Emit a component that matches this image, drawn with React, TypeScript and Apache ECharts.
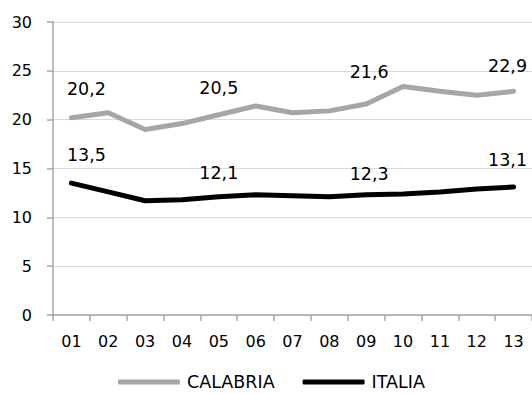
import React, { useEffect, useRef } from "react";
import * as echarts from "echarts";

const categories = ["01", "02", "03", "04", "05", "06", "07", "08", "09", "10", "11", "12", "13"];
const calabria = [20.2, 20.7, 19.0, 19.6, 20.5, 21.4, 20.7, 20.9, 21.6, 23.4, 22.9, 22.5, 22.9];
const italia = [13.5, 12.6, 11.7, 11.8, 12.1, 12.3, 12.2, 12.1, 12.3, 12.4, 12.6, 12.9, 13.1];
const labelledIdx = [0, 4, 8, 12];
const calabriaLabelOffsets = [[15, -28], [0, -26], [3, -32], [-6, -25]];
const italiaLabelOffsets = [[15, -28], [0, -23], [3, -20], [-6, -27]];

const FONT = "DejaVu Sans";

function buildData(values: number[], offsets: number[][]) {
  return values.map((v, i) => {
    const k = labelledIdx.indexOf(i);
    if (k < 0) return { value: v };
    return {
      value: v,
      label: {
        show: true,
        position: "top",
        distance: 0,
        verticalAlign: "middle",
        offset: offsets[k],
        formatter: v.toFixed(1).replace(".", ","),
        color: "#000",
        fontFamily: FONT,
        fontSize: 17.5,
      },
    };
  });
}

export default function App() {
  const ref = useRef<HTMLDivElement>(null);
  useEffect(() => {
    if (!ref.current) return;
    const chart = echarts.init(ref.current, undefined, { renderer: "svg" });
    chart.setOption({
      animation: false,
      backgroundColor: "#fff",
      grid: { left: 53, right: 0, top: 22, bottom: 79, containLabel: false },
      legend: {
        left: 113,
        top: 368,
        itemWidth: 62,
        itemHeight: 5,
        itemGap: 28,
        icon: "roundRect",
        textStyle: { fontFamily: FONT, fontSize: 17.5, color: "#000", padding: [0, 0, 0, 2] },
        data: ["CALABRIA", "ITALIA"],
      },
      xAxis: {
        type: "category",
        data: categories,
        boundaryGap: true,
        axisLine: { lineStyle: { color: "#a6a6a6", width: 1.5 } },
        axisTick: { show: true, length: 6, lineStyle: { color: "#a6a6a6", width: 1.5 } },
        axisLabel: { color: "#000", fontFamily: FONT, fontSize: 16, margin: 18 },
        splitLine: { show: false },
      },
      yAxis: {
        type: "value",
        min: 0,
        max: 30,
        interval: 5,
        axisLine: { show: true, lineStyle: { color: "#a6a6a6", width: 1.5 } },
        axisTick: { show: true, length: 6, lineStyle: { color: "#a6a6a6", width: 1.5 } },
        axisLabel: { color: "#000", fontFamily: FONT, fontSize: 16, margin: 21 },
        splitLine: { show: true, lineStyle: { color: "#d9d9d9", width: 1 } },
      },
      series: [
        {
          name: "CALABRIA",
          type: "line",
          data: buildData(calabria, calabriaLabelOffsets),
          symbol: "circle",
          symbolSize: 1,
          showSymbol: true,
          itemStyle: { color: "#a6a6a6" },
          lineStyle: { color: "#a6a6a6", width: 5, join: "round", cap: "round" },
        },
        {
          name: "ITALIA",
          type: "line",
          data: buildData(italia, italiaLabelOffsets),
          symbol: "circle",
          symbolSize: 1,
          showSymbol: true,
          itemStyle: { color: "#000" },
          lineStyle: { color: "#000", width: 5, join: "round", cap: "round" },
        },
      ],
    });
    return () => chart.dispose();
  }, []);
  return (
    <div
      ref={ref}
      style={{ position: "absolute", left: 0, top: 0, width: 532, height: 394 }}
    />
  );
}
